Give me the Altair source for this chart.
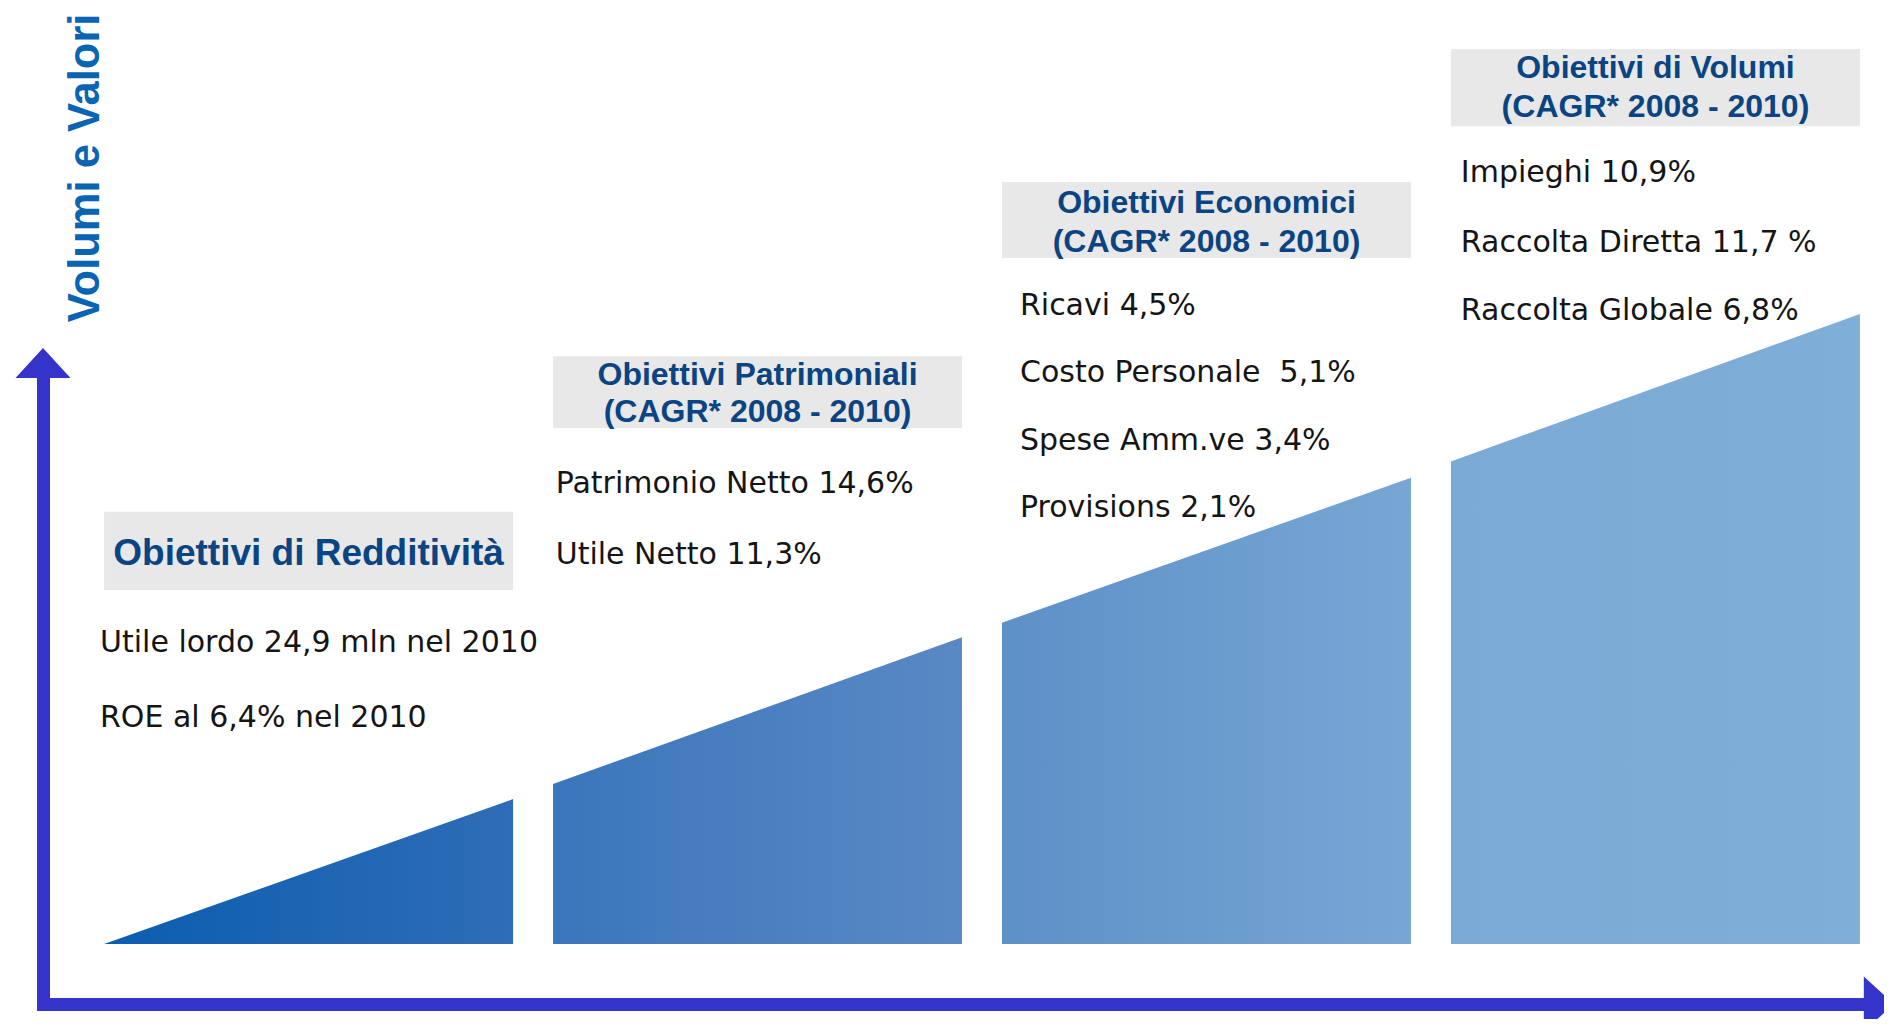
import altair as alt
import pandas as pd

# ---------------- data ----------------
stages = ["Redditività", "Patrimoniali", "Economici", "Volumi"]
bar_start = [0.0, 1.0, 2.0, 3.0]
bar_end = [0.911, 1.911, 2.911, 3.911]
vol_start = [0.0, 25.4, 51.0, 76.6]
vol_end = [23.0, 48.7, 74.0, 100.0]

box_titles = [
    ["Obiettivi di Redditività"],
    ["Obiettivi Patrimoniali", "(CAGR* 2008 - 2010)"],
    ["Obiettivi Economici", "(CAGR* 2008 - 2010)"],
    ["Obiettivi di Volumi", "(CAGR* 2008 - 2010)"],
]
box_items = [
    ["Utile lordo 24,9 mln nel 2010", "ROE al 6,4% nel 2010"],
    ["Patrimonio Netto 14,6%", "Utile Netto 11,3%"],
    ["Ricavi 4,5%", "Costo Personale \u00a05,1%", "Spese Amm.ve 3,4%", "Provisions 2,1%"],
    ["Impieghi 10,9%", "Raccolta Diretta 11,7 %", "Raccolta Globale 6,8%"],
]
axis_title = "Volumi e Valori"

# ---------------- layout (data units) ----------------
box_top = [68.6, 93.3, 120.95, 142.06]
box_bottom = [56.2, 81.9, 108.9, 129.8]
title_lines_v = [[60.2], [88.8, 82.9], [116.0, 109.8], [137.4, 131.3]]
title_sizes = [37, 32, 32, 32]
item_dx = [-0.009, 0.006, 0.040, 0.022]
item_lines_v = [[46.35, 34.4], [71.6, 60.3], [99.84, 89.25, 78.4, 67.8], [121.0, 109.9, 99.05]]

bar_colors = [("#0B5DB0", "#2F6DB6"), ("#3A76BC", "#5A89C4"),
              ("#5E90C8", "#77A7D4"), ("#7AAAD5", "#7FAED8")]
AXIS_COLOR = "#3434CA"

X_DOMAIN = [-0.136, 3.92]
Y_DOMAIN = [-9.52, 89.84]
xs = alt.Scale(domain=X_DOMAIN, nice=False, zero=False)
ys = alt.Scale(domain=Y_DOMAIN, nice=False, zero=False)


def X(f):
    return alt.X(f"{f}:Q", scale=xs, title=None)


def Y(f):
    return alt.Y(f"{f}:Q", scale=ys, title=None)


layers = []

# bars (trapezoids)
for i in range(len(stages)):
    df = pd.DataFrame({"u": [bar_start[i], bar_end[i]],
                       "v": [vol_start[i], vol_end[i]],
                       "stage": [stages[i]] * 2})
    c0, c1 = bar_colors[i]
    grad = alt.Gradient(gradient="linear",
                        stops=[alt.GradientStop(color=c0, offset=0),
                               alt.GradientStop(color=c1, offset=1)],
                        x1=0, x2=1, y1=0, y2=0)
    layers.append(alt.Chart(df).mark_area(color=grad, interpolate="linear").encode(
        x=X("u"), y=Y("v"), y2=alt.datum(0)))

# gray boxes
box_df = pd.DataFrame({"u0": bar_start, "u1": bar_end, "v0": box_bottom, "v1": box_top})
layers.append(alt.Chart(box_df).mark_rect(color="#E8E8E8").encode(
    x=X("u0"), x2="u1", y=Y("v0"), y2="v1"))

# box titles
rows = []
for i, lines in enumerate(box_titles):
    for j, t in enumerate(lines):
        rows.append({"u": (bar_start[i] + bar_end[i]) / 2, "v": title_lines_v[i][j],
                     "t": t, "fs": title_sizes[i]})
tdf = pd.DataFrame(rows)
layers.append(alt.Chart(tdf).mark_text(
    align="center", baseline="alphabetic", font="Liberation Sans",
    fontWeight="bold", color="#0B4482").encode(
    x=X("u"), y=Y("v"), text="t:N", size=alt.Size("fs:Q", scale=None, legend=None)))

# body items
rows = []
for i, lines in enumerate(box_items):
    for j, t in enumerate(lines):
        rows.append({"u": bar_start[i] + item_dx[i], "v": item_lines_v[i][j], "t": t})
idf = pd.DataFrame(rows)
layers.append(alt.Chart(idf).mark_text(
    align="left", baseline="alphabetic", font="DejaVu Sans", fontSize=30,
    color="#151515").encode(x=X("u"), y=Y("v"), text="t:N"))

# vertical axis title
ydf = pd.DataFrame({"u": [-0.011], "v": [98.7], "t": [axis_title]})
layers.append(alt.Chart(ydf).mark_text(
    angle=270, align="left", baseline="alphabetic", font="Liberation Sans",
    fontWeight="bold", fontSize=43.5, color="#0A64B4").encode(
    x=X("u"), y=Y("v"), text="t:N"))

# arrow heads
up = pd.DataFrame({"u": [X_DOMAIN[0]], "v": [92.22]})
layers.append(alt.Chart(up).mark_point(
    shape="M-1,0.545L0,-0.545L1,0.545Z", size=3025, filled=True, opacity=1,
    color=AXIS_COLOR, strokeWidth=0).encode(x=X("u"), y=Y("v")))
right = pd.DataFrame({"u": [3.953], "v": [Y_DOMAIN[0]]})
layers.append(alt.Chart(right).mark_point(
    shape="M-0.545,-1L0.545,0L-0.545,1Z", size=3025, filled=True, opacity=1,
    color=AXIS_COLOR, strokeWidth=0).encode(x=X("u"), y=Y("v")))

chart = alt.layer(*layers).properties(
    width=1821, height=626,
    padding={"left": 35, "top": 370, "right": 20, "bottom": 15},
    autosize=alt.AutoSizeParams(type="none"),
    background="white",
).configure_axis(
    domainWidth=13, domainColor=AXIS_COLOR, domainCap="square",
    labels=False, ticks=False, grid=False,
).configure_view(strokeWidth=0)

chart.save("out.html", embed_options={"renderer": "svg", "actions": False})
